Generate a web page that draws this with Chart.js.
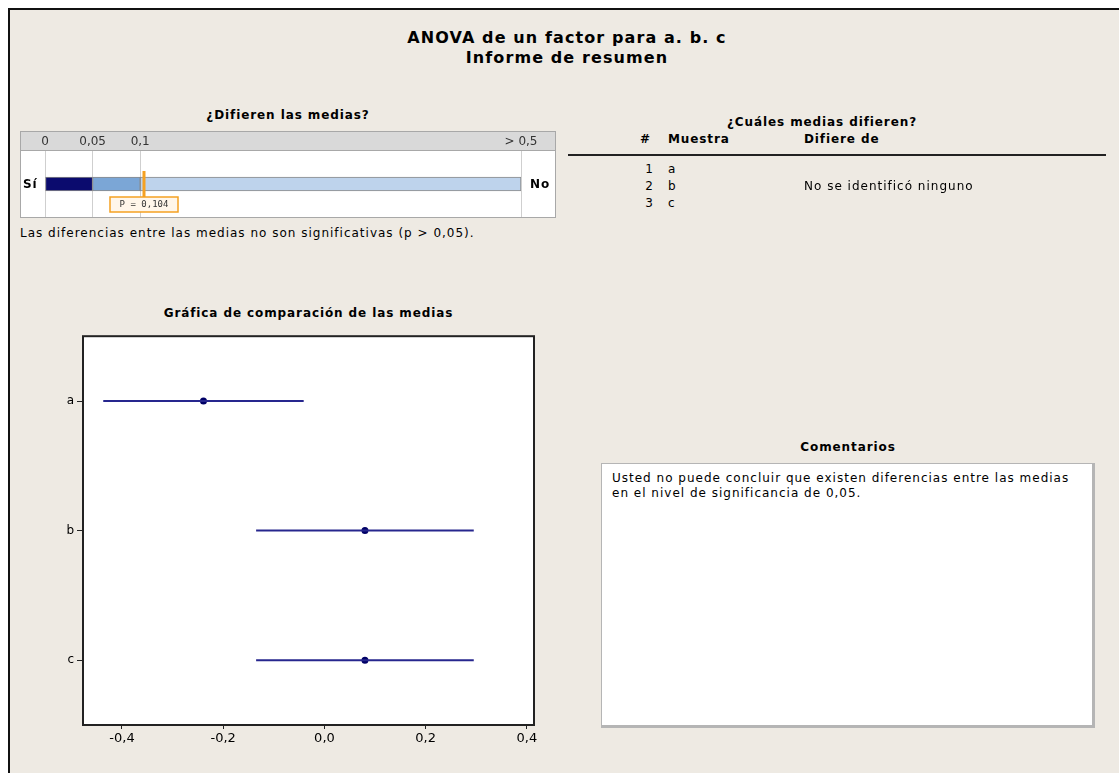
<!DOCTYPE html>
<html>
<head>
<meta charset="utf-8">
<script src="https://cdn.jsdelivr.net/npm/chart.js@4/dist/chart.umd.min.js"></script>
<style>
  body { margin: 0; background: #fff; font-family: "DejaVu Sans", sans-serif; color: #000; }
  #frame { position: absolute; left: 8px; top: 8px; width: 1200px; height: 900px;
    background: #eeeae3; border-left: 2px solid #111; border-top: 2px solid #111; }
  .t { position: absolute; white-space: nowrap; font-size: 12px; letter-spacing: 1px; }
  .b { font-weight: bold; letter-spacing: 0.9px; }
  .c { text-align: center; }
  #pbox { position: absolute; left: 20px; top: 131px; width: 536px; height: 87px;
    border: 1px solid #a8a8a8; box-sizing: border-box; background: #fff; }
  #means { position: absolute; left: 40px; top: 326px; }
  #rule { position: absolute; left: 568px; top: 154px; width: 538px; height: 2px; background: #222; }
  #comments { position: absolute; left: 601px; top: 463px; width: 494px; height: 265px;
    box-sizing: border-box; background: #fff; border: 1px solid #b5b5b5;
    border-right: 3px solid #b5b5b5; border-bottom: 3px solid #b5b5b5;
    padding: 7px 10px; font-size: 12px; letter-spacing: 1px; line-height: 15px; white-space: nowrap; }
</style>
</head>
<body>
<div id="frame"></div>

<div class="t b c" style="left:0;width:1134px;top:28px;font-size:16px;letter-spacing:1.1px;line-height:20px;">ANOVA de un factor para a. b. c<br>Informe de resumen</div>

<div class="t b c" style="left:20px;width:536px;top:106px;line-height:18px;">¿Difieren las medias?</div>
<div id="pbox"><canvas id="pbar" width="534" height="85"></canvas></div>
<div class="t b" style="left:23px;top:176px;line-height:16px;">Sí</div>
<div class="t b" style="left:530px;top:176px;line-height:16px;">No</div>
<div class="t" style="left:20px;top:225px;line-height:16px;">Las diferencias entre las medias no son significativas (p &gt; 0,05).</div>

<div class="t b c" style="left:622px;width:400px;top:113px;line-height:18px;">¿Cuáles medias difieren?</div>
<div class="t b" style="left:640px;top:131px;line-height:16px;">#</div>
<div class="t b" style="left:668px;top:131px;line-height:16px;">Muestra</div>
<div class="t b" style="left:804px;top:131px;line-height:16px;">Difiere de</div>
<div id="rule"></div>
<div class="t" style="left:636px;width:18px;text-align:right;top:161px;line-height:17px;">1<br>2<br>3</div>
<div class="t" style="left:668px;top:161px;line-height:17px;">a<br>b<br>c</div>
<div class="t" style="left:804px;top:178px;line-height:17px;">No se identificó ninguno</div>

<div class="t b c" style="left:83px;width:451px;top:304px;line-height:18px;">Gráfica de comparación de las medias</div>
<canvas id="means" width="505" height="434"></canvas>

<div class="t b c" style="left:601px;width:494px;top:438px;line-height:18px;">Comentarios</div>
<div id="comments">Usted no puede concluir que existen diferencias entre las medias<br>en el nivel de significancia de 0,05.</div>

<script>
// p-value bar
const pValue = 0.104
const pBands = [0.05, 0.05, 0.4]
const pTicks = [0, 0.05, 0.1, 0.5]
const pTickLabels = ['0', '0,05', '0,1', '> 0,5']
const pColors = ['#0b0b6e', '#7ba6d6', '#bed3ec']

// means comparison
const groups = ['a', 'b', 'c']
const means = [-0.239, 0.080, 0.080]
const lower = [-0.437, -0.135, -0.135]
const upper = [-0.041, 0.295, 0.295]
const xTicks = [-0.4, -0.2, 0, 0.2, 0.4]

const font = { family: 'DejaVu Sans', size: 12 }
const comma = v => v.toFixed(1).replace('.', ',')

const pDecor = {
  id: 'pDecor',
  beforeDraw (chart) {
    const { ctx, chartArea } = chart
    ctx.save()
    ctx.fillStyle = '#d9d9d9'
    ctx.fillRect(0, 0, chart.width, chartArea.top)
    ctx.fillStyle = '#a8a8a8'
    ctx.fillRect(0, chartArea.top - 1, chart.width, 1)
    ctx.restore()
  },
  afterDraw (chart) {
    const { ctx } = chart
    const bar = chart.getDatasetMeta(0).data[0]
    const x = Math.round(chart.scales.x.getPixelForValue(pValue))
    const top = bar.y - bar.height / 2 - 6
    const bottom = bar.y + bar.height / 2 + 6
    ctx.save()
    ctx.fillStyle = '#f5a122'
    ctx.fillRect(x - 1.5, top, 3, bottom - top)
    const label = 'P = ' + pValue.toFixed(3).replace('.', ',')
    ctx.font = '9px "DejaVu Sans Mono"'
    const w = 68
    const h = 15
    ctx.fillStyle = '#fff6ea'
    ctx.fillRect(x - w / 2, bottom, w, h)
    ctx.strokeStyle = '#f5a122'
    ctx.lineWidth = 1.5
    ctx.strokeRect(x - w / 2, bottom, w, h)
    ctx.fillStyle = '#333'
    ctx.textAlign = 'center'
    ctx.textBaseline = 'middle'
    ctx.fillText(label, x, bottom + h / 2 + 0.5)
    ctx.restore()
  }
}

new Chart(document.getElementById('pbar'), {
  type: 'bar',
  data: {
    labels: ['p'],
    datasets: pBands.map((v, i) => ({
      data: [v],
      backgroundColor: pColors[i],
      borderColor: '#8a8a8a',
      borderWidth: 1,
      borderSkipped: false,
      barThickness: 14
    }))
  },
  options: {
    indexAxis: 'y',
    responsive: false,
    animation: false,
    layout: { padding: { left: 24, right: 34, top: 0, bottom: 0 } },
    plugins: { legend: { display: false }, tooltip: { enabled: false } },
    scales: {
      x: {
        stacked: true,
        position: 'top',
        min: 0,
        max: 0.5,
        afterBuildTicks: s => { s.ticks = pTicks.map(value => ({ value })) },
        afterFit: s => { s.height = 19 },
        border: { display: false },
        grid: { color: '#cfcfcf', drawTicks: false },
        ticks: {
          padding: 2,
          font,
          color: '#333',
          callback: (v, i) => pTickLabels[i]
        }
      },
      y: { stacked: true, display: false }
    }
  },
  plugins: [pDecor]
})

const frame = {
  id: 'frame',
  beforeDraw (chart) {
    const { ctx, chartArea: a } = chart
    ctx.save()
    ctx.fillStyle = '#fff'
    ctx.fillRect(a.left, a.top, a.width, a.height)
    ctx.restore()
  },
  afterDraw (chart) {
    const { ctx, chartArea: a } = chart
    ctx.save()
    ctx.strokeStyle = '#222'
    ctx.lineWidth = 2
    ctx.strokeRect(a.left, a.top, a.width, a.height)
    ctx.restore()
  }
}

const intervals = groups.map((g, i) => ({
  data: [{ x: lower[i], y: g }, { x: upper[i], y: g }],
  showLine: true,
  borderColor: '#26268e',
  borderWidth: 2,
  pointRadius: 0
}))

new Chart(document.getElementById('means'), {
  type: 'scatter',
  data: {
    datasets: [
      ...intervals,
      {
        data: groups.map((g, i) => ({ x: means[i], y: g })),
        pointRadius: 3.5,
        pointStyle: 'circle',
        backgroundColor: '#000066',
        borderColor: '#000066',
        borderWidth: 0
      }
    ]
  },
  options: {
    responsive: false,
    animation: false,
    layout: { padding: { left: 0, right: 11, top: 2, bottom: 0 } },
    plugins: { legend: { display: false }, tooltip: { enabled: false } },
    scales: {
      x: {
        type: 'linear',
        min: -0.477,
        max: 0.414,
        afterBuildTicks: s => { s.ticks = xTicks.map(value => ({ value })) },
        afterFit: s => { s.height = 35 },
        border: { display: false },
        grid: { drawOnChartArea: false, tickLength: 4, tickColor: '#222' },
        ticks: { padding: 2, font: { family: 'DejaVu Sans', size: 13 }, color: '#000', callback: v => comma(v) }
      },
      y: {
        type: 'category',
        labels: groups,
        offset: true,
        afterFit: s => { s.width = 43 },
        border: { display: false },
        grid: { offset: false, drawOnChartArea: false, tickLength: 6, tickColor: '#222' },
        ticks: { padding: 3, font, color: '#000' }
      }
    }
  },
  plugins: [frame]
})
</script>
</body>
</html>
